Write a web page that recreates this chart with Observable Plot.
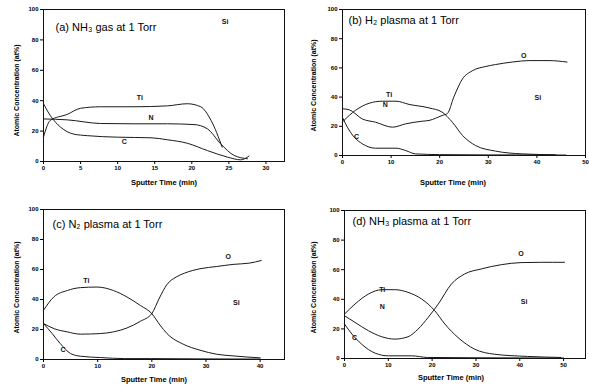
<!DOCTYPE html>
<html>
<head>
<meta charset="utf-8">
<script src="https://cdn.jsdelivr.net/npm/d3@7"></script>
<script src="https://cdn.jsdelivr.net/npm/@observablehq/plot@0.6"></script>
<style>
  body { margin: 0; background: white; }
  #wrap { position: relative; width: 589px; height: 385px; background: white; overflow: hidden; }
  #wrap > div { position: absolute; }
</style>
</head>
<body>
<div id="wrap">
  <div id="pa" style="left:0px;top:0px"></div>
  <div id="pb" style="left:295px;top:0px"></div>
  <div id="pc" style="left:0px;top:192px"></div>
  <div id="pd" style="left:295px;top:192px"></div>
</div>
<script>
// ---------- data: [sputter time (min), atomic concentration (at%)] ----------
// (a) NH3 gas at 1 Torr
const aTi = [[0,16],[0.9,27],[3.2,31],[5,35],[7.7,36],[12.2,36],[16.7,36.6],[19.4,38],[21.2,36],[22.6,27],[24.1,9.4]];
const aN  = [[0,28],[3.2,27.4],[7.7,25],[12.2,24.8],[16.7,24.8],[20.3,24.3],[22.1,21.5],[23.9,11.6],[25.7,4],[27.5,1.8]];
const aC  = [[0,38],[0.95,30],[2.3,22.6],[4.1,18],[5.9,17],[10,16],[14.5,15.6],[16.7,14.3],[19.4,12],[22.1,7.2],[24.8,2.9],[26.6,1.1],[27.7,3.5]];
const aLabelText = ["Ti","N","C","Si"];
const aLabelX = [13,14.5,10.9,24.5];
const aLabelY = [41.7,29,13,92];

// (b) H2 plasma at 1 Torr
const bTi = [[0,23],[0.3,24],[2.7,31],[5.5,35.8],[8.2,37.2],[11,37.2],[13.7,35],[17.8,32.6],[20.5,29.7],[22.6,22.8],[24.7,13.7],[27.4,6.8],[31.5,3],[37,1.1],[43.8,0.5]];
const bO  = [[0,32],[1.4,31.3],[4.1,25],[6.8,22.8],[10.3,19.4],[13,21.7],[16.4,23.5],[17.8,24],[20.5,27.4],[21.6,28.8],[22.9,40],[24.7,52.5],[26.7,58],[29.5,61],[31.5,62.3],[34.9,64],[38.4,65],[42.5,65],[46.2,64]];
const bC  = [[0,26],[1,19.4],[2.4,12.6],[4.1,8],[6.8,5],[11,5],[13,3.4],[15,1.1],[20,0.6],[30,0.4],[40,0.4],[46,0.3]];
const bLabelText = ["O","Ti","N","C","Si"];
const bLabelX = [37.3,9.6,8.8,2.9,40.2];
const bLabelY = [68.5,41.5,34.7,12.6,39.3];

// (c) N2 plasma at 1 Torr
const cTi = [[0,32.8],[1.9,41.7],[4.4,46],[6.8,47.9],[9.9,48.3],[12.9,46],[15.4,41.7],[17.9,36],[20,30.6],[21.5,23],[22.8,17.3],[25.8,10.2],[28.9,6.2],[32,3.5],[35,2.4],[40,1.1]];
const cO  = [[0,24],[2,20.5],[4.4,18.4],[6.8,16.9],[10.5,17.3],[12.9,18.4],[15.4,21],[17.9,25.5],[20,30.6],[21.4,41],[22.8,50],[24.5,55],[26,57.5],[28.9,60.5],[32,62],[35,63.4],[38.1,64.3],[40.2,66]];
const cC  = [[0,24],[1.6,17.3],[3.1,10.6],[5,4],[6.8,2.2],[10.5,1.3],[15,0.6],[20,0.6],[30,0.4],[40,0.3]];
const cLabelText = ["Ti","O","Si","C"];
const cLabelX = [7.9,34.1,35.6,3.6];
const cLabelY = [52.8,68.3,37.7,6.7];

// (d) NH3 plasma at 1 Torr
const dTi = [[0,30],[2.4,36.8],[5.5,43.6],[8.5,46.5],[11.5,46.5],[14.5,44.7],[17.6,40.2],[20.6,32.3],[22.9,23.3],[25.9,14.2],[29.7,6.3],[34.2,2.9],[41.8,1.4],[49.4,0.7]];
const dO  = [[0,28.9],[2.4,24.4],[5.5,18.7],[8.5,14.7],[11.5,13.1],[14.5,14.7],[16.8,19.9],[19.1,27.8],[21.4,36.8],[24.4,50.3],[27.4,57.1],[31.2,60.5],[35.8,63.4],[40.3,64.8],[44.8,65],[50.2,65]];
const dC  = [[0,23.3],[1.7,16.5],[3.9,9.7],[7,3.6],[10,1.8],[15.3,1.8],[19,0.7],[30,0.5],[40,0.4],[50,0.3]];
const dLabelText = ["Ti","N","O","Si","C"];
const dLabelX = [8.6,8.6,40.3,41,2.3];
const dLabelY = [46.3,35,71,38.4,14.2];

// axis ticks
const yTicks = [0,20,40,60,80,100];
const aXTicks = [0,5,10,15,20,25,30];
const bXTicks = [0,10,20,30,40,50];
const cXTicks = [0,10,20,30,40];
const dXTicks = [0,10,20,30,40,50];

const titles = ["(a) NH\u2083 gas at 1 Torr","(b) H\u2082 plasma at 1 Torr","(c) N\u2082 plasma at 1 Torr","(d) NH\u2083 plasma at 1 Torr"];
const xLabel = "Sputter Time (min)";
const yLabel = "Atomic Concentration (at%)";

function panel(cfg) {
  const labels = cfg.labelText.map((t,i) => ({t, x: cfg.labelX[i], y: cfg.labelY[i]}));
  const svg = Plot.plot({
    width: cfg.w, height: cfg.h,
    marginLeft: cfg.ml, marginTop: cfg.mt, marginRight: cfg.mr, marginBottom: cfg.mb,
    x: {domain: cfg.xDomain},
    y: {domain: [0,100]},
    style: {fontFamily: "'Liberation Sans', Arial, sans-serif", fontWeight: "bold", background: "white", color: "black"},
    marks: [
      Plot.frame({stroke: "#111", strokeWidth: 1}),
      Plot.axisX({ticks: cfg.xTicks, tickSize: 3, tickPadding: 1, fontSize: 6, label: null}),
      Plot.axisY({ticks: yTicks, tickSize: 3, tickPadding: 2, fontSize: 6, label: null}),
      ...cfg.series.map(s => Plot.line(s, {x: d => d[0], y: d => d[1], curve: "monotone-x", stroke: "#1a1a1a", strokeWidth: 1})),
      Plot.text(labels, {x: "x", y: "y", text: "t", fontSize: 7, fill: "#111"}),
      Plot.text([cfg.title], {frameAnchor: "top-left", textAnchor: "start", lineAnchor: "bottom", dx: cfg.tdx, dy: cfg.tdy, fontSize: 11, fontWeight: "normal", ariaLabel: "title"}),
      Plot.text([xLabel], {frameAnchor: "bottom", textAnchor: "middle", lineAnchor: "middle", dx: cfg.xldx, dy: cfg.xldy, fontSize: 7.5}),
      Plot.text([yLabel], {frameAnchor: "left", rotate: -90, textAnchor: "middle", lineAnchor: "middle", dx: cfg.yldx, dy: cfg.yldy, fontSize: 7})
    ]
  });
  const tg = svg.querySelector('g[aria-label="title"]');
  if (tg) tg.style.letterSpacing = "0.8px";
  return svg;
}

document.getElementById("pa").appendChild(panel({
  w: 295, h: 192, ml: 43, mt: 9, mr: 11, mb: 31, xDomain: [0,32.5], xTicks: aXTicks,
  series: [aTi, aN, aC], labelText: aLabelText, labelX: aLabelX, labelY: aLabelY,
  title: titles[0], tdx: 12, tdy: 21, xldx: 0, xldy: 21, yldx: -27, yldy: 5
}));
document.getElementById("pb").appendChild(panel({
  w: 294, h: 192, ml: 47, mt: 9, mr: 4, mb: 37, xDomain: [0,50], xTicks: bXTicks,
  series: [bTi, bO, bC], labelText: bLabelText, labelX: bLabelX, labelY: bLabelY,
  title: titles[1], tdx: 6, tdy: 14, xldx: -11, xldy: 27, yldx: -29, yldy: 3
}));
document.getElementById("pc").appendChild(panel({
  w: 295, h: 193, ml: 43, mt: 17, mr: 11, mb: 26, xDomain: [0,44.5], xTicks: cXTicks,
  series: [cTi, cO, cC], labelText: cLabelText, labelX: cLabelX, labelY: cLabelY,
  title: titles[2], tdx: 9, tdy: 18, xldx: -10, xldy: 20, yldx: -27, yldy: 3
}));
document.getElementById("pd").appendChild(panel({
  w: 294, h: 193, ml: 49, mt: 18, mr: 4, mb: 27, xDomain: [0,55], xTicks: dXTicks,
  series: [dTi, dO, dC], labelText: dLabelText, labelX: dLabelX, labelY: dLabelY,
  title: titles[3], tdx: 8, tdy: 14, xldx: -14, xldy: 19, yldx: -31, yldy: 3
}));
</script>
</body>
</html>
